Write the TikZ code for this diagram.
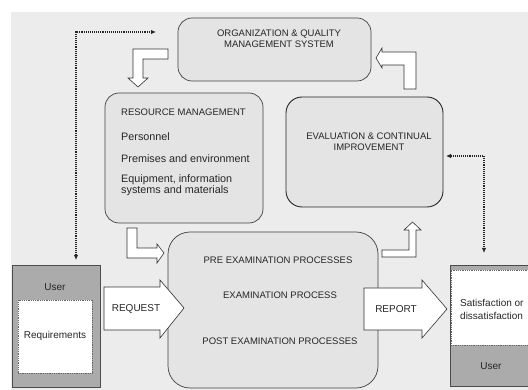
\documentclass[tikz,border=0pt]{standalone}
\usepackage{fontspec}
\setmainfont{Liberation Sans}
\usetikzlibrary{arrows.meta}
\definecolor{bggray}{HTML}{ECECEC}
\definecolor{boxgray}{HTML}{E4E4E4}
\definecolor{usergray}{HTML}{ABABAB}
\begin{document}
\begin{tikzpicture}[x=1pt,y=-1pt,
  box/.style={draw=black!75, fill=boxgray, line width=0.7pt, inner sep=0pt},
  capt/.style={font=\fontsize{9.5}{11}\selectfont, align=center, inner sep=0pt, text=black!85},
  lowt/.style={font=\fontsize{10.8}{10.5}\selectfont, align=left, inner sep=0pt, anchor=west, text=black!85},
  blockarrow/.style={draw=black!80, fill=white, line width=0.6pt, line join=miter},
  dotconn/.style={densely dotted, line width=1.1pt, black!85, {Latex[length=5pt,width=4.5pt]}-{Latex[length=5pt,width=4.5pt]}}
]
\useasboundingbox (0,0) rectangle (528,390);
\fill[bggray] (11,12) rectangle (528,390);

% boxes
\node[box, rounded corners=14pt, minimum width=193pt, minimum height=63pt] (org) at (274.5,49.5) {};
\node[box, rounded corners=14pt, minimum width=158pt, minimum height=130pt] (res) at (184,158) {};
\node[box, rounded corners=16pt, minimum width=157pt, minimum height=110pt, line width=0.9pt, draw=black!85] (eval) at (364.5,152) {};
\node[box, rounded corners=22pt, minimum width=210pt, minimum height=156pt] (main) at (273,310) {};

% user boxes
\node[draw=black!70, fill=usergray, line width=0.7pt, minimum width=88pt, minimum height=122pt, inner sep=0pt] (userL) at (56,326) {};
\node[draw=black!60, fill=white, densely dotted, line width=0.8pt, minimum width=74pt, minimum height=73pt, inner sep=0pt] (reqL) at (55,336.5) {};
\node[draw=black!70, fill=usergray, line width=0.7pt, minimum width=82pt, minimum height=121pt, inner sep=0pt] (userR) at (491,325.5) {};
\node[draw=black!60, fill=white, densely dotted, line width=0.8pt, minimum width=78pt, minimum height=75pt, inner sep=0pt] (satR) at (490,307.5) {};

% block arrows
\path[blockarrow] (168,49) -- (133,49) -- (133,78) -- (128,78) -- (138,87) -- (148,78) -- (143,78) -- (143,59) -- (168,59) -- cycle;
\path[blockarrow] (404,89) -- (404,65) -- (382,65) -- (382,68) -- (376,58) -- (382,48) -- (382,52) -- (416,52) -- (416,89) -- cycle;
\path[blockarrow] (127,228) -- (127,258) -- (157,258) -- (157,263) -- (164,253) -- (157,244) -- (157,248) -- (137,248) -- (137,228) -- cycle;
\path[blockarrow] (382,250) -- (409,250) -- (409,230) -- (404,230) -- (412.5,222) -- (421,230) -- (416,230) -- (416,257) -- (382,257) -- cycle;
\path[blockarrow] (104,287) -- (160,287) -- (160,280) -- (184,308) -- (160,338) -- (160,330) -- (104,330) -- cycle;
\path[blockarrow] (364,288) -- (422,288) -- (422,280) -- (447,309) -- (422,338) -- (422,330) -- (364,330) -- cycle;

% dotted connectors
\coordinate (dl1) at (76,260);
\coordinate (dl2) at (156,32);
\coordinate (dr1) at (446,156);
\coordinate (dr2) at (484,253);
\draw[dotconn] (dl1) |- (dl2);
\draw[dotconn] (dr1) -| (dr2);

% texts
\node[capt] (torg) at (279,39) {ORGANIZATION \& QUALITY\\MANAGEMENT SYSTEM};
\node[capt, anchor=west] (tres) at (121,112) {RESOURCE MANAGEMENT};
\node[lowt] (tpers) at (121,137) {Personnel};
\node[lowt] (tprem) at (121,159) {Premises and environment};
\node[lowt] (tequ) at (121,185) {Equipment, information\\systems and materials};
\node[capt] (teval) at (369,142) {EVALUATION \& CONTINUAL\\IMPROVEMENT};
\node[capt] (tpre) at (278,260) {PRE EXAMINATION PROCESSES};
\node[capt] (texam) at (280,295) {EXAMINATION PROCESS};
\node[capt] (tpost) at (280,341) {POST EXAMINATION PROCESSES};
\node[capt, font=\fontsize{10}{11}\selectfont] (treq) at (136,309) {REQUEST};
\node[capt, font=\fontsize{10}{11}\selectfont] (trep) at (396,309) {REPORT};
\node[lowt, anchor=center, font=\fontsize{10}{11}\selectfont] (tuserL) at (55,287) {User};
\node[lowt, anchor=center, font=\fontsize{10}{11}\selectfont] (treqs) at (55,336) {Requirements};
\node[lowt, anchor=west, font=\fontsize{10}{13}\selectfont] (tsat) at (460,309) {Satisfaction or\\dissatisfaction};
\node[lowt, anchor=center, font=\fontsize{10}{11}\selectfont] (tuserR) at (491,366) {User};
\end{tikzpicture}
\end{document}
